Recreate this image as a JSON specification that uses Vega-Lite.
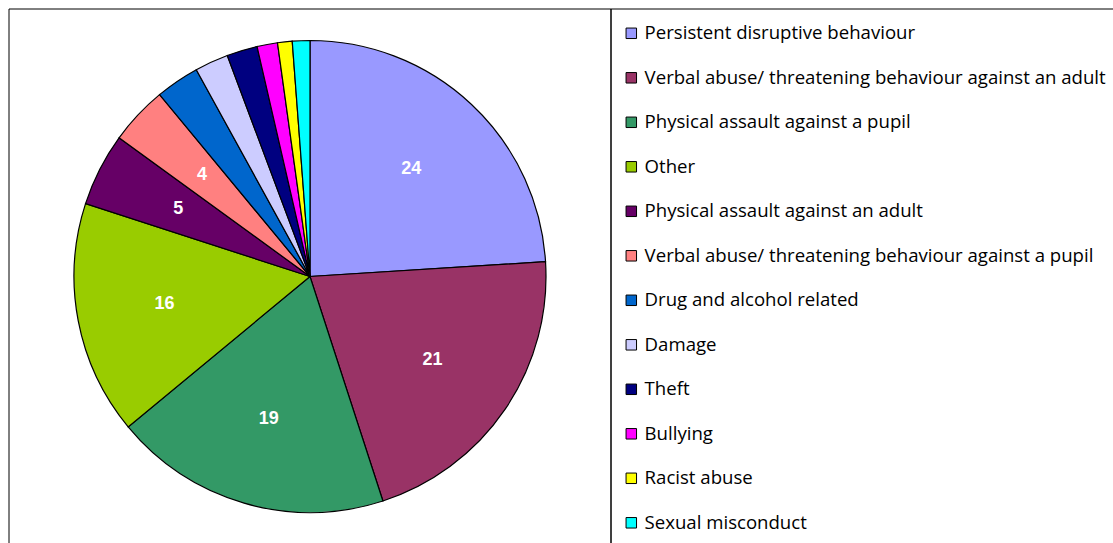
{
  "$schema": "https://vega.github.io/schema/vega-lite/v6.json",
  "padding": {"left": 8, "top": 8, "right": 0, "bottom": 0},
  "background": "white",
  "spacing": 0,
  "bounds": "flush",
  "data": {"values": [
    {"idx": 1, "category": "Persistent disruptive behaviour", "value": 24},
    {"idx": 2, "category": "Verbal abuse/ threatening behaviour against an adult", "value": 21},
    {"idx": 3, "category": "Physical assault against a pupil", "value": 19},
    {"idx": 4, "category": "Other", "value": 16},
    {"idx": 5, "category": "Physical assault against an adult", "value": 5},
    {"idx": 6, "category": "Verbal abuse/ threatening behaviour against a pupil", "value": 4},
    {"idx": 7, "category": "Drug and alcohol related", "value": 3},
    {"idx": 8, "category": "Damage", "value": 2.3},
    {"idx": 9, "category": "Theft", "value": 2.1},
    {"idx": 10, "category": "Bullying", "value": 1.4},
    {"idx": 11, "category": "Racist abuse", "value": 1.0},
    {"idx": 12, "category": "Sexual misconduct", "value": 1.2}
  ]},
  "hconcat": [
    {
      "width": 602,
      "height": 535,
      "layer": [
        {
          "data": {"values": [{"frame": 1}]},
          "mark": {"type": "rect", "fill": null, "stroke": "black", "strokeWidth": 1},
          "encoding": {}
        },
        {
          "mark": {"type": "arc", "outerRadius": 236, "stroke": "black", "strokeWidth": 1.2},
          "encoding": {
            "theta": {"field": "value", "type": "quantitative", "stack": true},
            "order": {"field": "idx", "type": "quantitative"},
            "color": {
              "field": "category", "type": "nominal", "sort": null,
              "scale": {
                "domain": ["Persistent disruptive behaviour", "Verbal abuse/ threatening behaviour against an adult", "Physical assault against a pupil", "Other", "Physical assault against an adult", "Verbal abuse/ threatening behaviour against a pupil", "Drug and alcohol related", "Damage", "Theft", "Bullying", "Racist abuse", "Sexual misconduct"],
                "range": ["#9999FF", "#993366", "#339966", "#99CC00", "#660066", "#FF8080", "#0066CC", "#CCCCFF", "#000080", "#FF00FF", "#FFFF00", "#00FFFF"]
              },
              "legend": {"title": null}
            }
          }
        },
        {
          "mark": {"type": "text", "radius": 148, "font": "Liberation Sans", "fontWeight": "bold", "fontSize": 18, "fill": "white", "align": "center", "baseline": "middle"},
          "encoding": {
            "theta": {"field": "value", "type": "quantitative", "stack": true},
            "order": {"field": "idx", "type": "quantitative"},
            "text": {"condition": {"test": "datum.value >= 4", "field": "value", "type": "quantitative", "format": ".0f"}, "value": ""}
          }
        }
      ]
    },
    {
      "width": 503,
      "height": 535,
      "data": {"values": [{"frame": 1}]},
      "mark": {"type": "rect", "fill": null, "stroke": "black", "strokeWidth": 1},
      "encoding": {}
    }
  ],
  "config": {
    "view": {"stroke": null},
    "legend": {
      "orient": "none",
      "legendX": 613,
      "legendY": 15,
      "padding": 0,
      "symbolType": "square",
      "symbolSize": 110,
      "symbolStrokeColor": "black",
      "symbolStrokeWidth": 1,
      "symbolOpacity": 1,
      "labelFont": "Open Sans",
      "labelFontSize": 18.6,
      "labelColor": "black",
      "labelLimit": 600,
      "labelOffset": 4,
      "rowPadding": 25.5
    }
  }
}
